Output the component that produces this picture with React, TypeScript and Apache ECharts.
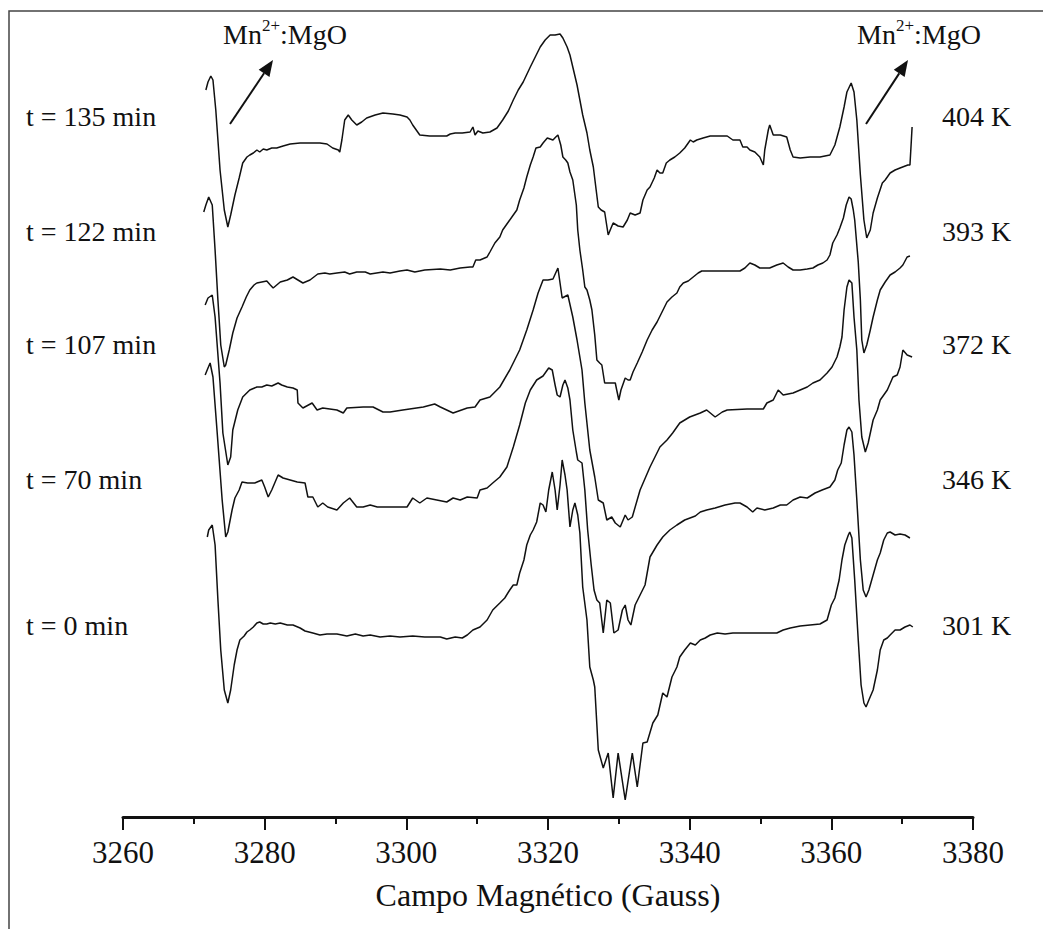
import React, { useEffect, useRef } from "react";
import * as echarts from "echarts";

// Field axis (Gauss)
const fieldMin = 3260;
const fieldMax = 3380;
const fieldStep = 20;

// Stacked EPR intensities (arbitrary units, each spectrum already offset)
const spectrum135: [number, number][] = [
  [3271.7, 727], [3272.0, 735], [3272.4, 741], [3272.7, 737], [3273.1, 707], [3273.7, 647], [3274.3, 607], [3274.8, 590],
  [3275.2, 602], [3275.8, 622], [3276.4, 639], [3276.9, 654], [3277.5, 660], [3277.9, 662], [3278.4, 664], [3278.9, 667],
  [3279.3, 665], [3279.8, 668], [3280.3, 667], [3281.0, 669], [3281.7, 669], [3282.6, 671], [3283.6, 673], [3285.0, 674],
  [3286.4, 674], [3287.8, 674], [3288.8, 673], [3289.6, 669], [3290.4, 667], [3290.6, 665], [3290.9, 677], [3291.3, 697],
  [3291.8, 702], [3292.3, 697], [3293.0, 692], [3293.7, 695], [3294.4, 699], [3295.6, 702], [3296.7, 704], [3298.1, 703],
  [3299.1, 702], [3300.1, 700], [3300.5, 697], [3300.9, 692], [3301.9, 682], [3303.3, 681], [3304.8, 681], [3305.7, 681],
  [3306.2, 683], [3306.9, 684], [3307.9, 684], [3309.0, 685], [3309.4, 690], [3309.7, 682], [3310.1, 686], [3310.8, 684],
  [3311.8, 685], [3312.8, 689], [3313.6, 697], [3314.4, 706], [3315.1, 717], [3315.8, 727], [3316.5, 735], [3317.5, 750],
  [3318.2, 760], [3318.9, 770], [3319.6, 777], [3320.3, 782], [3321.0, 782], [3321.7, 783], [3322.1, 779], [3322.7, 770],
  [3323.1, 762], [3323.5, 750], [3324.1, 732], [3324.5, 717], [3324.9, 702], [3325.5, 684], [3325.9, 667], [3326.4, 650],
  [3326.8, 627], [3327.1, 610], [3327.5, 607], [3328.0, 605], [3328.5, 582], [3328.9, 589], [3329.2, 594], [3329.9, 591],
  [3330.6, 590], [3331.2, 597], [3331.6, 604], [3332.3, 602], [3333.0, 604], [3333.4, 617], [3334.0, 627], [3334.4, 630],
  [3335.0, 639], [3335.4, 647], [3335.8, 644], [3336.2, 644], [3336.7, 654], [3337.2, 657], [3337.9, 660], [3338.6, 664],
  [3339.3, 669], [3340.1, 677], [3340.5, 675], [3341.0, 677], [3341.9, 679], [3342.9, 681], [3344.3, 681], [3345.3, 681],
  [3346.1, 677], [3347.1, 677], [3347.5, 670], [3348.1, 670], [3348.5, 667], [3349.2, 665], [3349.9, 660], [3350.4, 652],
  [3350.6, 667], [3351.1, 687], [3351.3, 692], [3351.8, 682], [3352.8, 682], [3353.7, 680], [3354.2, 667], [3354.6, 660],
  [3355.6, 659], [3357.0, 660], [3358.4, 660], [3359.8, 662], [3360.5, 672], [3361.2, 690], [3361.8, 710], [3362.2, 725],
  [3362.8, 734], [3363.2, 725], [3363.6, 697], [3364.1, 642], [3364.6, 597], [3365.0, 579], [3365.5, 587], [3365.9, 604],
  [3366.5, 619], [3367.2, 634], [3367.6, 637], [3368.3, 644], [3369.0, 647], [3369.7, 649], [3370.8, 652], [3371.1, 652],
  [3371.3, 677], [3371.4, 690],
];

const spectrum122: [number, number][] = [
  [3271.4, 605], [3271.7, 612], [3272.1, 620], [3272.6, 612], [3273.0, 567], [3273.4, 517], [3273.8, 472], [3274.3, 450],
  [3274.5, 452], [3275.0, 467], [3275.5, 484], [3276.1, 499], [3276.8, 510], [3277.4, 520], [3277.9, 527], [3278.5, 532],
  [3278.9, 534], [3279.6, 535], [3280.3, 536], [3280.8, 532], [3281.2, 529], [3281.7, 532], [3282.2, 535], [3283.2, 537],
  [3284.0, 540], [3284.7, 537], [3285.4, 534], [3286.4, 537], [3287.5, 543], [3288.5, 544], [3289.2, 543], [3290.2, 544],
  [3291.3, 545], [3292.0, 543], [3293.0, 545], [3294.2, 545], [3294.9, 543], [3296.7, 545], [3297.7, 544], [3299.1, 546],
  [3300.1, 547], [3301.2, 545], [3302.6, 547], [3304.8, 548], [3306.2, 547], [3307.6, 549], [3309.0, 550], [3309.4, 550],
  [3309.8, 557], [3310.4, 557], [3311.4, 560], [3311.8, 565], [3312.5, 574], [3313.2, 580], [3313.6, 587], [3314.4, 595],
  [3315.1, 602], [3315.6, 607], [3316.0, 617], [3316.6, 629], [3317.0, 640], [3317.5, 652], [3317.9, 660], [3318.3, 669],
  [3318.9, 670], [3319.3, 674], [3319.9, 679], [3320.3, 678], [3320.7, 677], [3321.1, 680], [3321.4, 682], [3321.8, 672],
  [3322.1, 660], [3322.5, 657], [3322.8, 654], [3323.1, 645], [3323.5, 637], [3324.0, 612], [3324.2, 587], [3324.5, 567],
  [3324.9, 547], [3325.2, 530], [3325.5, 527], [3325.9, 517], [3326.2, 507], [3326.6, 482], [3326.9, 457], [3327.3, 454],
  [3327.6, 452], [3328.0, 434], [3328.8, 434], [3329.5, 434], [3329.7, 427], [3330.0, 417], [3330.3, 427], [3330.9, 439],
  [3331.3, 437], [3331.6, 437], [3332.0, 445], [3332.6, 454], [3333.3, 465], [3334.0, 477], [3334.7, 487], [3335.4, 495],
  [3336.1, 505], [3336.8, 515], [3337.5, 520], [3338.2, 524], [3338.6, 530], [3339.1, 534], [3339.8, 536], [3340.5, 540],
  [3341.2, 544], [3341.7, 546], [3342.9, 546], [3344.3, 546], [3345.7, 546], [3347.1, 546], [3347.8, 549], [3348.5, 554],
  [3349.2, 552], [3349.9, 549], [3350.6, 549], [3351.3, 549], [3352.3, 552], [3353.2, 554], [3353.9, 550], [3354.6, 547],
  [3355.6, 547], [3356.6, 548], [3357.4, 549], [3358.1, 552], [3358.8, 554], [3359.4, 557], [3359.8, 562], [3360.2, 574],
  [3360.8, 582], [3361.2, 589], [3361.7, 599], [3362.1, 612], [3362.5, 620], [3362.8, 618], [3363.1, 607], [3363.3, 597],
  [3363.8, 555], [3364.1, 517], [3364.3, 477], [3364.6, 464], [3365.0, 472], [3365.5, 487], [3365.9, 500], [3366.5, 517],
  [3366.9, 527], [3367.6, 535], [3368.3, 542], [3369.0, 545], [3369.7, 549], [3370.1, 552], [3370.7, 560], [3371.1, 561],
];

const spectrum107: [number, number][] = [
  [3271.6, 512], [3272.0, 519], [3272.6, 522], [3273.0, 500], [3273.7, 434], [3274.1, 384], [3274.8, 352], [3275.2, 360],
  [3275.5, 387], [3276.2, 407], [3276.9, 420], [3277.9, 427], [3278.9, 430], [3279.6, 430], [3280.3, 432], [3281.0, 431],
  [3281.9, 434], [3282.4, 432], [3283.2, 430], [3284.0, 429], [3284.6, 427], [3284.7, 414], [3285.4, 409], [3286.7, 414],
  [3287.4, 407], [3288.2, 409], [3290.2, 407], [3291.1, 404], [3291.6, 409], [3293.9, 410], [3295.3, 410], [3296.7, 405],
  [3297.7, 405], [3299.5, 407], [3302.4, 410], [3304.0, 413], [3304.8, 410], [3306.6, 404], [3308.6, 409], [3309.7, 410],
  [3310.4, 417], [3311.8, 420], [3313.2, 430], [3314.6, 447], [3316.0, 467], [3317.0, 487], [3317.9, 507], [3318.6, 524],
  [3319.3, 537], [3320.0, 537], [3320.7, 538], [3321.4, 549], [3322.0, 519], [3322.8, 522], [3323.5, 500], [3324.1, 477],
  [3324.8, 447], [3325.2, 414], [3325.9, 367], [3326.6, 340], [3327.1, 317], [3327.8, 314], [3328.3, 297], [3329.0, 300],
  [3329.5, 294], [3330.2, 290], [3330.9, 302], [3331.3, 297], [3331.9, 300], [3333.0, 327], [3334.4, 350], [3335.8, 370],
  [3336.8, 377], [3337.6, 384], [3338.6, 394], [3340.0, 400], [3341.5, 404], [3342.4, 407], [3343.6, 400], [3344.6, 405],
  [3345.3, 407], [3348.1, 408], [3350.4, 408], [3350.9, 414], [3351.8, 417], [3352.5, 427], [3353.2, 422], [3354.6, 424],
  [3355.6, 427], [3356.6, 430], [3357.4, 434], [3358.4, 437], [3359.4, 444], [3360.1, 450], [3360.8, 460], [3361.2, 470],
  [3361.5, 480], [3361.8, 507], [3362.2, 530], [3362.5, 537], [3362.9, 534], [3363.2, 500], [3363.6, 467], [3363.9, 417],
  [3364.3, 380], [3364.8, 365], [3365.2, 374], [3365.9, 397], [3366.5, 407], [3366.9, 417], [3367.9, 427], [3368.7, 440],
  [3369.3, 442], [3369.7, 450], [3370.1, 467], [3370.7, 462], [3371.4, 460],
];

const spectrum70: [number, number][] = [
  [3271.6, 442], [3272.0, 449], [3272.3, 454], [3272.7, 440], [3273.3, 384], [3274.0, 317], [3274.5, 280], [3274.8, 285],
  [3275.4, 307], [3275.8, 319], [3276.4, 327], [3276.8, 335], [3277.6, 334], [3278.6, 334], [3279.6, 337], [3280.0, 330],
  [3280.5, 320], [3281.0, 327], [3281.9, 342], [3282.6, 339], [3283.6, 337], [3284.6, 335], [3285.7, 334], [3286.1, 320],
  [3286.8, 320], [3287.5, 310], [3288.2, 314], [3288.9, 310], [3290.2, 307], [3291.1, 314], [3292.0, 319], [3293.0, 310],
  [3293.9, 310], [3294.9, 312], [3295.9, 310], [3297.7, 310], [3300.1, 310], [3300.9, 319], [3301.9, 314], [3302.9, 319],
  [3304.3, 317], [3305.7, 315], [3306.6, 319], [3307.6, 317], [3308.6, 320], [3310.0, 319], [3310.4, 327], [3311.4, 329],
  [3312.2, 334], [3313.2, 340], [3314.2, 350], [3315.1, 370], [3316.0, 392], [3316.8, 414], [3317.5, 427], [3318.4, 437],
  [3319.3, 441], [3319.7, 445], [3320.1, 449], [3320.6, 447], [3321.0, 432], [3321.3, 422], [3321.7, 420], [3322.1, 432],
  [3322.4, 437], [3322.8, 429], [3323.1, 417], [3323.5, 387], [3324.0, 365], [3324.2, 357], [3324.8, 354], [3325.2, 327],
  [3325.6, 287], [3326.1, 252], [3326.5, 227], [3326.9, 217], [3327.3, 214], [3327.8, 184], [3328.3, 217], [3328.8, 214],
  [3329.3, 184], [3329.9, 187], [3330.5, 207], [3330.9, 212], [3331.3, 197], [3331.7, 192], [3332.3, 212], [3333.0, 222],
  [3333.7, 232], [3334.4, 260], [3335.4, 272], [3336.2, 280], [3337.2, 287], [3338.2, 292], [3339.3, 297], [3340.8, 301],
  [3341.5, 305], [3342.4, 307], [3343.6, 309], [3345.0, 312], [3346.4, 314], [3347.1, 314], [3348.1, 310], [3348.9, 305],
  [3349.5, 309], [3350.6, 307], [3351.8, 309], [3352.8, 312], [3353.7, 312], [3354.6, 317], [3355.6, 320], [3356.6, 319],
  [3357.7, 324], [3358.7, 327], [3359.8, 330], [3360.5, 337], [3360.9, 347], [3361.4, 354], [3361.8, 372], [3362.2, 387],
  [3362.5, 390], [3362.9, 385], [3363.2, 362], [3363.6, 317], [3364.1, 257], [3364.5, 227], [3364.9, 220], [3365.3, 227],
  [3365.9, 242], [3366.5, 257], [3366.9, 264], [3367.4, 277], [3367.9, 284], [3368.3, 285], [3369.0, 282], [3369.7, 283],
  [3370.4, 282], [3371.1, 279],
];

const spectrum0: [number, number][] = [
  [3271.9, 280], [3272.1, 287], [3272.6, 292], [3273.0, 272], [3273.4, 217], [3273.8, 167], [3274.3, 127], [3274.8, 114],
  [3275.2, 127], [3275.7, 152], [3276.1, 167], [3276.5, 177], [3277.1, 181], [3277.5, 185], [3277.9, 187], [3278.4, 190],
  [3278.9, 194], [3279.3, 195], [3279.8, 193], [3280.3, 193], [3280.8, 194], [3281.5, 193], [3282.2, 194], [3283.2, 192],
  [3284.0, 192], [3285.0, 189], [3285.7, 186], [3286.8, 184], [3287.8, 182], [3288.8, 183], [3290.2, 183], [3291.6, 181],
  [3292.8, 183], [3293.9, 181], [3294.9, 182], [3296.3, 180], [3297.7, 181], [3299.1, 180], [3300.9, 181], [3302.6, 180],
  [3304.8, 180], [3305.7, 178], [3306.9, 180], [3307.9, 179], [3308.6, 182], [3309.4, 187], [3310.4, 190], [3311.4, 197],
  [3312.2, 207], [3313.2, 214], [3313.9, 219], [3314.6, 227], [3315.1, 232], [3315.6, 232], [3316.0, 244], [3316.6, 257],
  [3317.0, 272], [3317.5, 282], [3317.9, 287], [3318.4, 295], [3318.9, 314], [3319.3, 312], [3319.7, 305], [3320.1, 327],
  [3320.6, 345], [3321.0, 327], [3321.3, 307], [3321.7, 332], [3322.0, 357], [3322.4, 342], [3322.7, 327], [3323.1, 290],
  [3323.5, 307], [3323.8, 314], [3324.2, 302], [3324.5, 284], [3324.9, 230], [3325.5, 197], [3325.9, 150], [3326.4, 137],
  [3326.6, 130], [3327.1, 67], [3327.8, 49], [3328.5, 64], [3329.2, 19], [3329.9, 64], [3330.9, 17], [3331.9, 64],
  [3332.6, 30], [3333.4, 74], [3334.0, 75], [3334.8, 94], [3335.5, 102], [3336.2, 124], [3336.8, 120], [3337.5, 140],
  [3338.2, 150], [3338.6, 160], [3339.3, 167], [3340.1, 174], [3340.8, 172], [3341.5, 177], [3342.2, 179], [3342.9, 182],
  [3343.9, 184], [3345.0, 183], [3346.1, 184], [3347.8, 184], [3349.9, 184], [3352.3, 184], [3353.2, 187], [3354.2, 189],
  [3355.6, 191], [3357.0, 192], [3358.4, 193], [3359.4, 197], [3360.0, 212], [3360.5, 219], [3361.1, 237], [3361.5, 257],
  [3361.9, 272], [3362.4, 282], [3362.6, 285], [3362.9, 279], [3363.3, 237], [3363.8, 177], [3364.2, 132], [3364.6, 114],
  [3364.9, 110], [3365.3, 117], [3365.9, 127], [3366.5, 147], [3366.9, 167], [3367.4, 177], [3367.9, 179], [3368.3, 182],
  [3369.0, 187], [3369.7, 187], [3370.4, 190], [3371.1, 192], [3371.5, 190],
];

const spectra = [spectrum135, spectrum122, spectrum107, spectrum70, spectrum0];
const timeLabels = ["t = 135 min", "t = 122 min", "t = 107 min", "t = 70 min", "t = 0 min"];
const tempLabels = ["404 K", "393 K", "372 K", "346 K", "301 K"];
const labelRowsY = [116, 231, 344, 479, 625];

const SERIF = "'Liberation Serif', 'Times New Roman', serif";
const INK = "#111";

export default function App() {
  const ref = useRef<HTMLDivElement>(null);

  useEffect(() => {
    if (!ref.current) return;
    const chart = echarts.init(ref.current, undefined, { renderer: "svg" });

    const textEl = (text: string, x: number, y: number) => ({
      type: "text",
      x,
      y,
      silent: true,
      style: {
        text,
        fill: INK,
        font: `28px ${SERIF}`,
        fontFamily: SERIF,
        fontSize: 28,
        align: "left",
        verticalAlign: "middle",
        textAlign: "left",
        textVerticalAlign: "middle",
      },
    });

    const mnLabel = (x: number, y: number) => ({
      type: "text",
      x,
      y,
      silent: true,
      style: {
        text: "{a|Mn}{s|2+}{a|:MgO}",
        fill: INK,
        fontFamily: SERIF,
        fontSize: 28,
        align: "left",
        verticalAlign: "middle",
        rich: {
          a: { fontFamily: SERIF, fontSize: 28, lineHeight: 34, fill: INK, color: INK },
          s: { fontFamily: SERIF, fontSize: 17, lineHeight: 20, verticalAlign: "top", fill: INK, color: INK },
        },
      },
    });

    const arrow = (x1: number, y1: number, x2: number, y2: number) => {
      const dx = x2 - x1;
      const dy = y2 - y1;
      const len = Math.sqrt(dx * dx + dy * dy);
      const ux = dx / len;
      const uy = dy / len;
      const hl = 16;
      const hw = 6.5;
      const bx = x2 - ux * hl;
      const by = y2 - uy * hl;
      const nx = -uy;
      const ny = ux;
      return [
        {
          type: "line",
          silent: true,
          shape: { x1, y1, x2: bx, y2: by },
          style: { stroke: INK, lineWidth: 2 },
        },
        {
          type: "polygon",
          silent: true,
          shape: {
            points: [
              [x2, y2],
              [bx + nx * hw, by + ny * hw],
              [bx - nx * hw, by - ny * hw],
            ],
          },
          style: { fill: INK },
        },
      ];
    };

    const graphics: any[] = [
      {
        type: "rect",
        silent: true,
        shape: { x: 9, y: 11, width: 1200, height: 1100 },
        style: { fill: "none", stroke: "#444", lineWidth: 1.5 },
      },
      ...timeLabels.map((t, i) => textEl(t, 26, labelRowsY[i])),
      ...tempLabels.map((t, i) => textEl(t, 942, labelRowsY[i])),
      mnLabel(223, 34),
      mnLabel(857, 34),
      ...arrow(230, 124, 273, 60),
      ...arrow(866, 124, 908, 60),
    ];

    chart.setOption({
      animation: false,
      backgroundColor: "#fff",
      grid: { left: 123, right: 70, top: 17, bottom: 112, containLabel: false },
      xAxis: {
        type: "value",
        min: fieldMin,
        max: fieldMax,
        interval: fieldStep,
        name: "Campo Magnético (Gauss)",
        nameLocation: "middle",
        nameGap: 62,
        nameTextStyle: { fontFamily: SERIF, fontSize: 32, color: INK },
        axisLine: { show: true, onZero: false, lineStyle: { color: INK, width: 3 } },
        axisTick: { show: true, length: 13, lineStyle: { color: INK, width: 2 } },
        minorTick: { show: true, splitNumber: 2, length: 7, lineStyle: { color: INK, width: 2 } },
        splitLine: { show: false },
        minorSplitLine: { show: false },
        axisLabel: {
          fontFamily: SERIF,
          fontSize: 31,
          color: INK,
          margin: 20,
          formatter: (v: number) => String(v),
        },
      },
      yAxis: { type: "value", min: 0, max: 800, show: false },
      series: spectra.map((d) => ({
        type: "line",
        data: d,
        showSymbol: false,
        symbol: "none",
        silent: true,
        lineStyle: { color: INK, width: 1.5 },
      })),
      graphic: graphics,
    });

    return () => chart.dispose();
  }, []);

  return (
    <div
      ref={ref}
      style={{ position: "fixed", left: 0, top: 0, width: 1043, height: 929, background: "#fff" }}
    />
  );
}
